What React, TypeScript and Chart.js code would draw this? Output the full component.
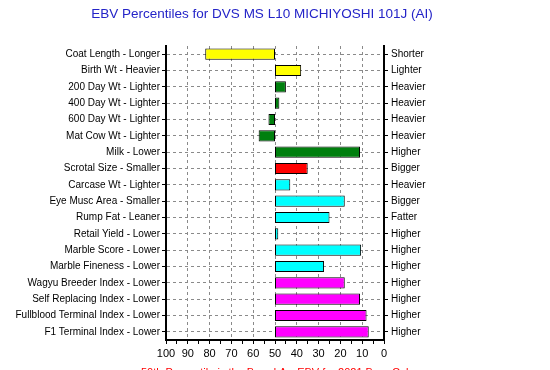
import React, { useEffect, useRef } from "react";
import { Chart, registerables } from "chart.js";

Chart.register(...registerables);

const titleText = "EBV Percentiles for DVS MS L10 MICHIYOSHI 101J (AI)";
const footerText = "50th Percentile is the Breed Av. EBV for 2021 Born Calves";

const leftLabels = [
  "Coat Length - Longer",
  "Birth Wt - Heavier",
  "200 Day Wt - Lighter",
  "400 Day Wt - Lighter",
  "600 Day Wt - Lighter",
  "Mat Cow Wt - Lighter",
  "Milk - Lower",
  "Scrotal Size - Smaller",
  "Carcase Wt - Lighter",
  "Eye Musc Area - Smaller",
  "Rump Fat - Leaner",
  "Retail Yield - Lower",
  "Marble Score - Lower",
  "Marble Fineness - Lower",
  "Wagyu Breeder Index - Lower",
  "Self Replacing Index - Lower",
  "Fullblood Terminal Index - Lower",
  "F1 Terminal Index - Lower",
];

const rightLabels = [
  "Shorter",
  "Lighter",
  "Heavier",
  "Heavier",
  "Heavier",
  "Heavier",
  "Higher",
  "Bigger",
  "Heavier",
  "Bigger",
  "Fatter",
  "Higher",
  "Higher",
  "Higher",
  "Higher",
  "Higher",
  "Higher",
  "Higher",
];

const percentiles = [82, 38, 45, 48, 53, 57.5, 11, 35, 43, 18, 25, 48.5, 10.5, 27.5, 18, 11, 8, 7];

const barColors = [
  "#ffff00",
  "#ffff00",
  "#007f0e",
  "#007f0e",
  "#007f0e",
  "#007f0e",
  "#007f0e",
  "#ff0000",
  "#00ffff",
  "#00ffff",
  "#00ffff",
  "#00ffff",
  "#00ffff",
  "#00ffff",
  "#ff00ff",
  "#ff00ff",
  "#ff00ff",
  "#ff00ff",
];

const breedAverage = 50;
const xTickValues = [0, 10, 20, 30, 40, 50, 60, 70, 80, 90, 100];

const FONT = "'Liberation Sans', Arial, sans-serif";

export default function App() {
  const ref = useRef<HTMLCanvasElement | null>(null);

  useEffect(() => {
    document.body.style.margin = "0";
    const canvas = ref.current;
    if (!canvas) return;

    const textPlugin = {
      id: "titleFooterText",
      afterDraw(chart: any) {
        const ctx = chart.ctx;
        ctx.save();
        ctx.fillStyle = "#2424c8";
        ctx.font = `13.5px ${FONT}`;
        ctx.textAlign = "center";
        ctx.textBaseline = "middle";
        ctx.fillText(titleText, 262, 14);
        ctx.fillStyle = "#ff0000";
        ctx.font = `11px ${FONT}`;
        ctx.textAlign = "left";
        ctx.textBaseline = "alphabetic";
        ctx.fillText(footerText, 141, 376);
        ctx.restore();
      },
    };

    const chart = new Chart(canvas, {
      type: "bar",
      data: {
        labels: leftLabels,
        datasets: [
          {
            data: percentiles.map((v) => [breedAverage, v]) as any,
            backgroundColor: barColors,
            borderColor: "#000000",
            borderWidth: 1,
            borderSkipped: false,
            barPercentage: 0.68,
            categoryPercentage: 1,
            yAxisID: "y",
          },
        ],
      },
      options: {
        indexAxis: "y",
        animation: false,
        responsive: false,
        maintainAspectRatio: false,
        layout: { padding: { left: 0, right: 0, top: 46, bottom: 28 } },
        plugins: {
          legend: { display: false },
          tooltip: { enabled: false },
          title: { display: false },
        },
        scales: {
          x: {
            type: "linear",
            min: 0,
            max: 100,
            reverse: true,
            afterBuildTicks: (scale: any) => {
              const t = [];
              for (let v = 0; v <= 100; v += 5) t.push({ value: v });
              scale.ticks = t;
            },
            afterFit: (scale: any) => {
              scale.height = 22;
            },
            ticks: {
              autoSkip: false,
              maxRotation: 0,
              color: "#000000",
              padding: 3,
              font: { family: FONT, size: 11 },
              callback: (v: any) => (xTickValues.includes(Number(v)) ? String(v) : ""),
            },
            grid: {
              color: (ctx: any) =>
                ctx.tick && ctx.tick.value % 10 === 0 && ctx.tick.value !== 0 && ctx.tick.value !== 100
                  ? "#8a8a8a"
                  : "rgba(0,0,0,0)",
              tickColor: "#000000",
              tickLength: 4,
              lineWidth: 1,
            },
            border: { display: true, color: "#000000", width: 2, dash: [3, 3] },
          },
          y: {
            type: "category",
            position: "left",
            offset: true,
            afterFit: (scale: any) => {
              scale.width = 166;
            },
            ticks: {
              color: "#000000",
              padding: 2,
              autoSkip: false,
              font: { family: FONT, size: 10 },
            },
            grid: {
              offset: false,
              color: "#8a8a8a",
              tickColor: "#000000",
              tickLength: 4,
              lineWidth: 1,
            },
            border: { display: true, color: "#000000", width: 2, dash: [3, 3] },
          },
          y2: {
            type: "category",
            position: "right",
            labels: rightLabels,
            offset: true,
            afterFit: (scale: any) => {
              scale.width = 166;
            },
            ticks: {
              color: "#000000",
              padding: 3,
              autoSkip: false,
              font: { family: FONT, size: 10 },
            },
            grid: {
              offset: false,
              drawOnChartArea: false,
              tickColor: "#000000",
              tickLength: 4,
            },
            border: { display: true, color: "#000000", width: 2 },
          },
        },
      } as any,
      plugins: [textPlugin],
    });

    return () => chart.destroy();
  }, []);

  return (
    <div style={{ width: 550, height: 390, background: "#ffffff" }}>
      <canvas ref={ref} width={550} height={390} style={{ display: "block" }} />
    </div>
  );
}
